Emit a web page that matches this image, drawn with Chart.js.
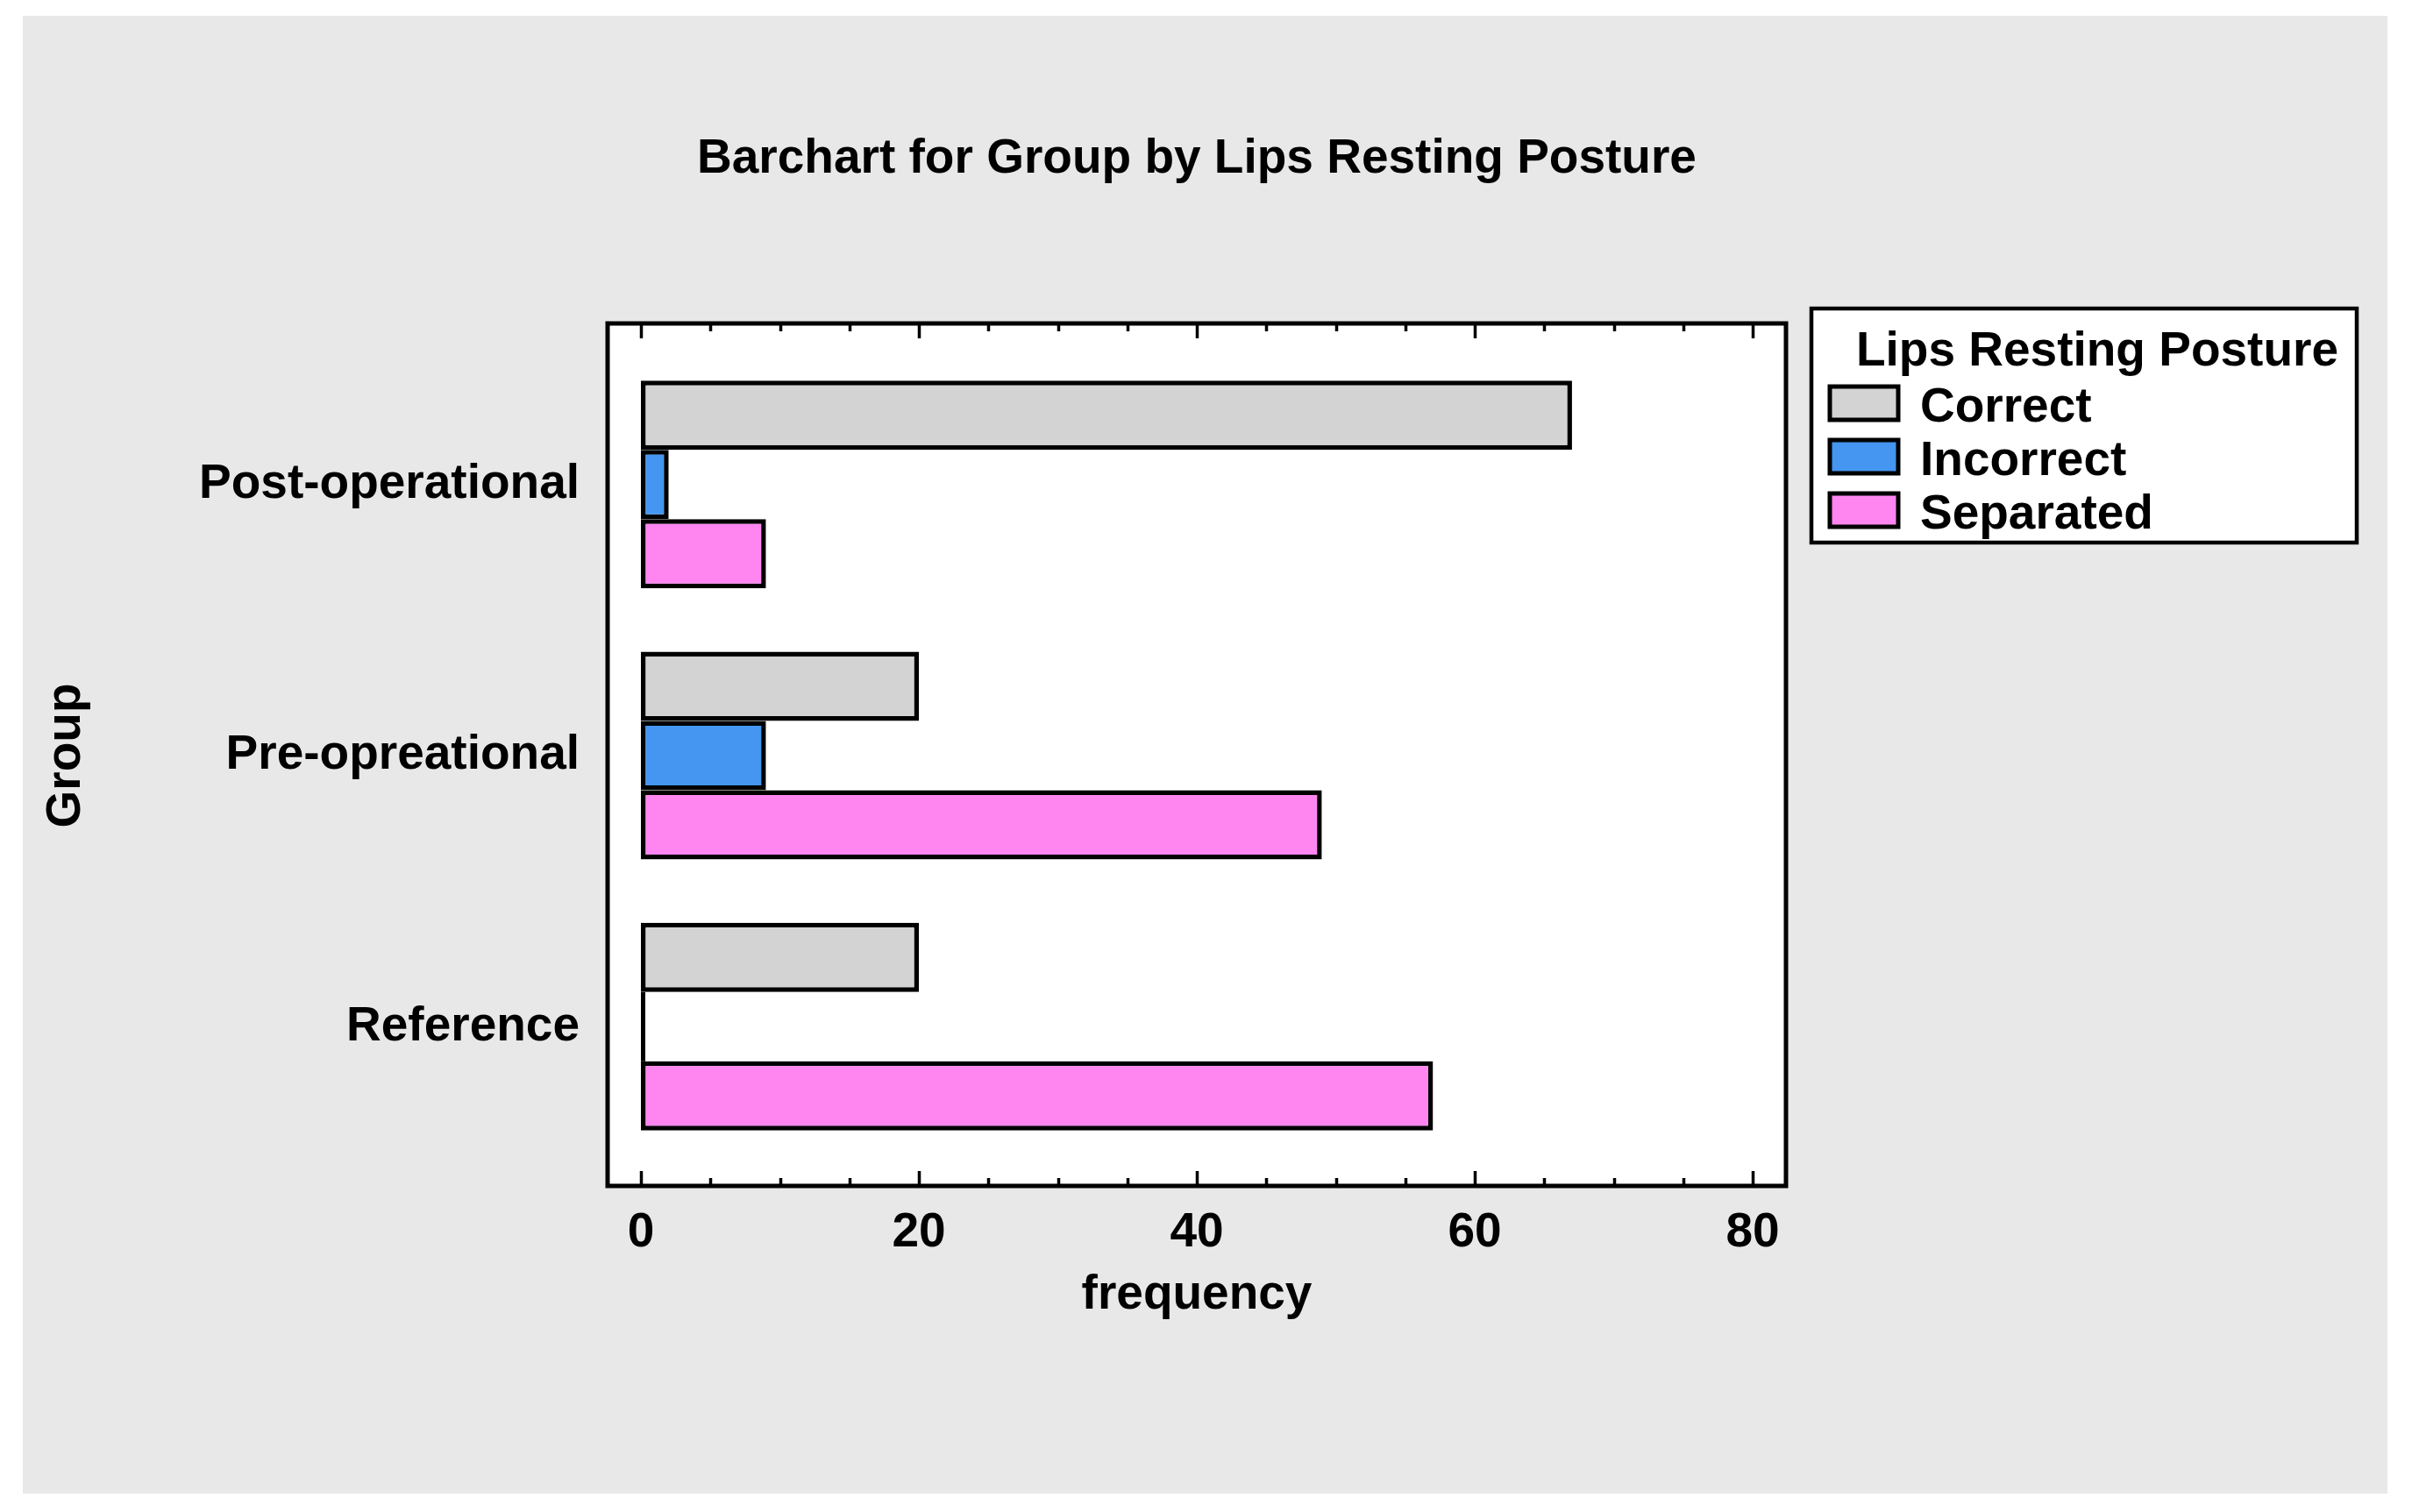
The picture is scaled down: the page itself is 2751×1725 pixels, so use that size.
<!DOCTYPE html>
<html>
<head>
<meta charset="utf-8">
<script src="https://cdn.jsdelivr.net/npm/chart.js@4.4.1/dist/chart.umd.min.js"></script>
<style>
  html, body { margin: 0; padding: 0; background: #ffffff; }
  #wrap { width: 2751px; height: 1725px; }
  canvas { display: block; }
</style>
</head>
<body>
<div id="wrap"><canvas id="chart" width="2751" height="1725"></canvas></div>
<script>
// ---- data ----
const categories = ['Post-operational', 'Pre-opreational', 'Reference'];
const seriesNames = ['Correct', 'Incorrect', 'Separated'];
const correctValues = [67, 20, 20];
const incorrectValues = [2, 9, 0];
const separatedValues = [9, 49, 57];
const xTickValues = [0, 20, 40, 60, 80];
const minorStep = 5;
const chartTitle = 'Barchart for Group by Lips Resting Posture';
const legendTitle = 'Lips Resting Posture';
const xAxisTitle = 'frequency';
const yAxisTitle = 'Group';

// ---- styles ----
const seriesColors = ['#d3d3d3', '#4496f0', '#ff86f0'];
const FONT = "'Liberation Sans', Arial, Helvetica, sans-serif";
const fnt = { family: FONT, size: 55, weight: 'bold' };

const decorPlugin = {
  id: 'decor',
  beforeDraw(chart) {
    const ctx = chart.ctx;
    ctx.save();
    ctx.fillStyle = '#ffffff';
    ctx.fillRect(0, 0, chart.width, chart.height);
    ctx.fillStyle = '#e8e8e8';
    ctx.fillRect(26, 18, 2697, 1686);
    const ca = chart.chartArea;
    ctx.fillStyle = '#ffffff';
    ctx.fillRect(ca.left - 38, ca.top - 29, (ca.right - ca.left) + 76, (ca.bottom - ca.top) + 56);
    ctx.restore();
  },
  afterDatasetsDraw(chart) {
    const ctx = chart.ctx;
    const ca = chart.chartArea;
    const xs = chart.scales.x;
    const fl = ca.left - 38, fr = ca.right + 38, ft = ca.top - 29, fb = ca.bottom + 27;
    ctx.save();
    // zero-length bars drawn as a line
    chart.data.datasets.forEach((ds, i) => {
      const meta = chart.getDatasetMeta(i);
      meta.data.forEach((el) => {
        if (Math.abs(el.x - el.base) < 1) {
          ctx.strokeStyle = '#000';
          ctx.lineWidth = 5;
          ctx.beginPath();
          ctx.moveTo(el.base + 2.5, el.y - el.height / 2);
          ctx.lineTo(el.base + 2.5, el.y + el.height / 2);
          ctx.stroke();
        }
      });
    });
    // frame
    ctx.strokeStyle = '#000';
    ctx.lineWidth = 5;
    ctx.strokeRect(fl, ft, fr - fl, fb - ft);
    // inward ticks
    ctx.lineWidth = 3.5;
    const maxV = xTickValues[xTickValues.length - 1];
    for (let v = xTickValues[0]; v <= maxV; v += minorStep) {
      const px = Math.round(xs.getPixelForValue(v)) + 0.5;
      const len = xTickValues.includes(v) ? 17 : 9;
      ctx.beginPath();
      ctx.moveTo(px, fb);
      ctx.lineTo(px, fb - len);
      ctx.moveTo(px, ft);
      ctx.lineTo(px, ft + len);
      ctx.stroke();
    }
    ctx.restore();
  },
  afterDraw(chart) {
    const ctx = chart.ctx;
    const bx = 2066, by = 352, bw = 622, bh = 267;
    ctx.save();
    ctx.fillStyle = '#ffffff';
    ctx.fillRect(bx, by, bw, bh);
    ctx.strokeStyle = '#000';
    ctx.lineWidth = 4.5;
    ctx.strokeRect(bx, by, bw, bh);
    ctx.fillStyle = '#000';
    ctx.font = 'bold 55px ' + FONT;
    ctx.textBaseline = 'alphabetic';
    ctx.textAlign = 'right';
    ctx.fillText(legendTitle, bx + bw - 21, by + 65);
    ctx.textAlign = 'left';
    chart.data.datasets.forEach((ds, i) => {
      const base = by + 129 + i * 61;
      ctx.fillStyle = ds.backgroundColor;
      ctx.fillRect(bx + 21, base - 40, 78, 38);
      ctx.strokeStyle = '#000';
      ctx.lineWidth = 5;
      ctx.strokeRect(bx + 21, base - 40, 78, 38);
      ctx.fillStyle = '#000';
      ctx.fillText(ds.label, bx + 124, base);
    });
    ctx.restore();
  }
};

const valueSets = [correctValues, incorrectValues, separatedValues];
const datasets = seriesNames.map((name, i) => ({
  label: name,
  data: valueSets[i],
  backgroundColor: seriesColors[i],
  borderColor: '#000000',
  borderWidth: 5.5,
  borderSkipped: false,
  categoryPercentage: 0.766,
  barPercentage: 1.0
}));

new Chart(document.getElementById('chart'), {
  type: 'bar',
  data: { labels: categories, datasets },
  plugins: [decorPlugin],
  options: {
    indexAxis: 'y',
    responsive: false,
    animation: false,
    devicePixelRatio: 1,
    layout: { padding: { left: 43, right: 752, top: 0, bottom: 214 } },
    plugins: {
      legend: { display: false },
      tooltip: { enabled: false },
      title: {
        display: true,
        text: chartTitle,
        fullSize: false,
        color: '#000',
        font: fnt,
        padding: { top: 149, bottom: 183 }
      }
    },
    scales: {
      x: {
        type: 'linear',
        position: 'bottom',
        min: xTickValues[0],
        max: xTickValues[xTickValues.length - 1],
        afterBuildTicks(scale) { scale.ticks = xTickValues.map(v => ({ value: v })); },
        grid: { display: false, drawTicks: false },
        border: { display: false },
        ticks: { color: '#000', font: fnt, padding: 48, maxRotation: 0 },
        title: { display: true, text: xAxisTitle, color: '#000', font: fnt, padding: { top: 0, bottom: 0 } },
        afterFit(scale) { scale.height = 185; }
      },
      y: {
        type: 'category',
        grid: { display: false, drawTicks: false },
        border: { display: false },
        ticks: { color: '#000', font: fnt, padding: 70 },
        title: { display: true, text: yAxisTitle, color: '#000', font: fnt, padding: { top: 0, bottom: 0 } },
        afterFit(scale) { scale.width = 688; }
      }
    }
  }
});
</script>
</body>
</html>
